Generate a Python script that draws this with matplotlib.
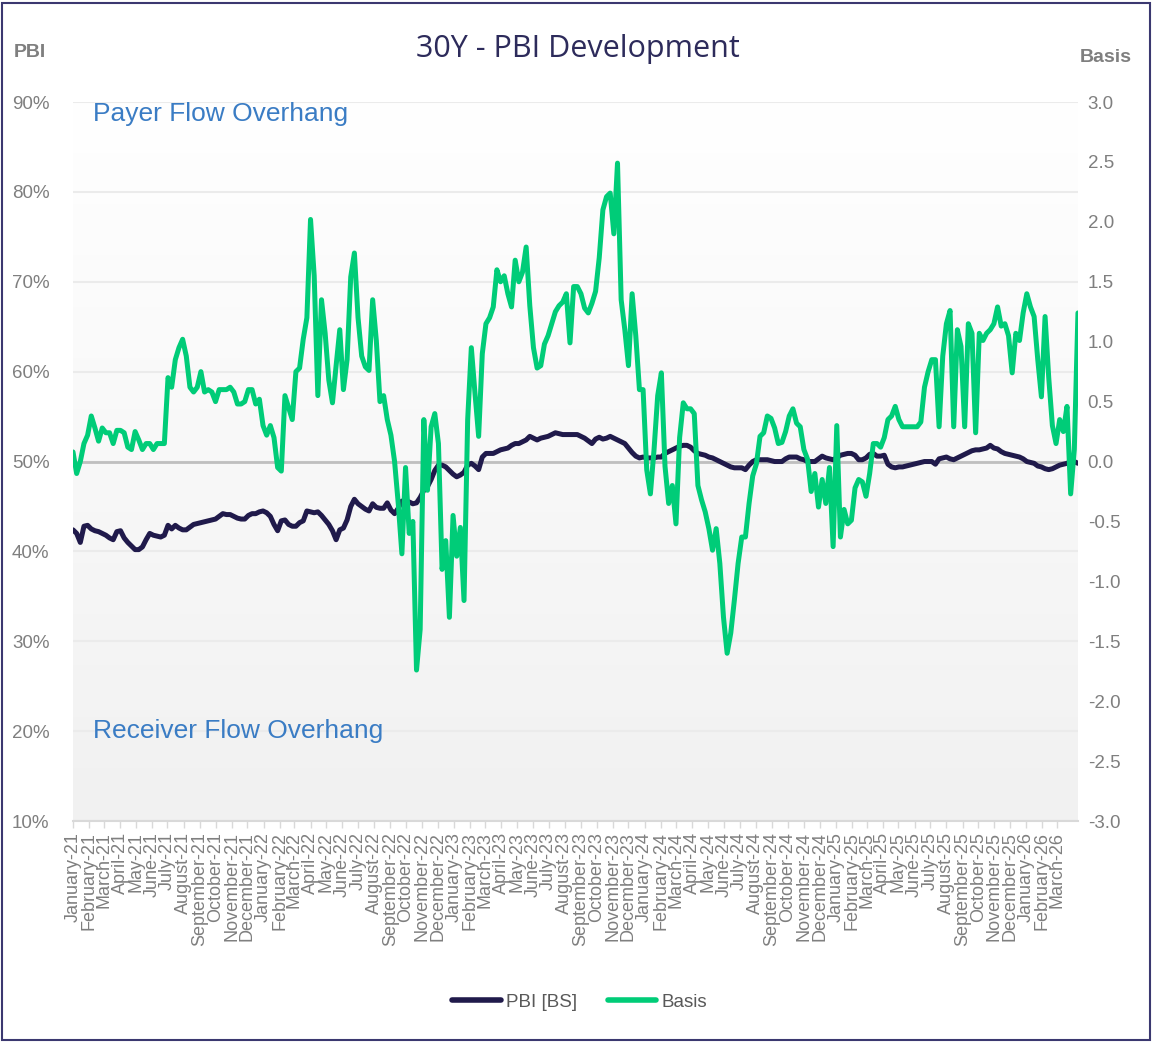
import numpy as np
import pandas as pd
import matplotlib
matplotlib.use('Agg')
import matplotlib.pyplot as plt
from matplotlib.lines import Line2D
from matplotlib.patches import Rectangle

# weekly observations, starting 1 Jan 2021
start_date = '2021-01-01'

pbi = [42.4, 42.0, 41.0, 42.8, 42.9, 42.5, 42.3, 42.2, 42.0, 41.8,
       41.5, 41.3, 42.2, 42.3, 41.5, 41.0, 40.6, 40.2, 40.2, 40.5,
       41.3, 42.0, 41.8, 41.7, 41.6, 41.8, 42.9, 42.5, 42.9, 42.6,
       42.4, 42.4, 42.7, 43.0, 43.1, 43.2, 43.3, 43.4, 43.5, 43.6,
       43.9, 44.2, 44.1, 44.1, 43.9, 43.7, 43.6, 43.6, 44.0, 44.2,
       44.2, 44.4, 44.5, 44.3, 43.9, 43.0, 42.3, 43.4, 43.5, 43.0,
       42.8, 42.8, 43.2, 43.4, 44.5, 44.4, 44.3, 44.4, 44.0, 43.5,
       43.0, 42.3, 41.3, 42.4, 42.6, 43.5, 45.0, 45.8, 45.3, 45.0,
       44.7, 44.5, 45.3, 44.9, 44.8, 44.8, 45.4, 44.6, 44.2, 44.8,
       45.6, 45.6, 45.5, 45.3, 45.4, 46.0, 46.8, 47.2, 48.0, 49.0,
       49.6, 49.6, 49.4, 49.0, 48.6, 48.3, 48.5, 48.8, 49.6, 49.8,
       49.5, 49.1, 50.5, 50.9, 50.9, 50.9, 51.1, 51.3, 51.4, 51.5,
       51.8, 52.0, 52.0, 52.2, 52.4, 52.8, 52.6, 52.4, 52.6, 52.7,
       52.8, 53.0, 53.2, 53.1, 53.0, 53.0, 53.0, 53.0, 53.0, 52.8,
       52.6, 52.3, 52.0, 52.5, 52.7, 52.5, 52.6, 52.8, 52.6, 52.4,
       52.2, 52.0, 51.5, 51.0, 50.6, 50.4, 50.5, 50.4, 50.4, 50.4,
       50.5, 50.5, 50.9, 51.1, 51.3, 51.5, 51.7, 51.8, 51.8, 51.6,
       51.2, 50.9, 50.8, 50.7, 50.5, 50.4, 50.2, 50.0, 49.8, 49.6,
       49.4, 49.3, 49.3, 49.3, 49.1, 49.6, 50.0, 50.2, 50.2, 50.2,
       50.2, 50.1, 50.0, 50.0, 50.0, 50.3, 50.5, 50.5, 50.5, 50.3,
       50.2, 50.0, 50.0, 50.0, 50.3, 50.6, 50.4, 50.3, 50.2, 50.4,
       50.7, 50.8, 50.9, 50.9, 50.7, 50.2, 50.2, 50.4, 50.8, 50.9,
       50.6, 50.6, 50.7, 49.7, 49.4, 49.3, 49.4, 49.4, 49.5, 49.6,
       49.7, 49.8, 49.9, 50.0, 50.0, 50.0, 49.7, 50.3, 50.4, 50.5,
       50.3, 50.2, 50.4, 50.6, 50.8, 51.0, 51.2, 51.3, 51.3, 51.4,
       51.5, 51.8, 51.5, 51.4, 51.1, 50.9, 50.8, 50.7, 50.6, 50.5,
       50.3, 50.0, 49.9, 49.8, 49.5, 49.4, 49.2, 49.1, 49.2, 49.4,
       49.6, 49.7, 49.8, 50.0, 50.0, 49.8]

basis = [0.08, -0.10, 0.00, 0.15, 0.22, 0.38, 0.28, 0.17, 0.28, 0.24,
         0.24, 0.15, 0.26, 0.26, 0.24, 0.12, 0.10, 0.25, 0.18, 0.10,
         0.15, 0.15, 0.10, 0.15, 0.15, 0.15, 0.70, 0.62, 0.85, 0.95,
         1.02, 0.88, 0.62, 0.58, 0.62, 0.75, 0.58, 0.60, 0.58, 0.50,
         0.60, 0.60, 0.60, 0.62, 0.58, 0.48, 0.48, 0.50, 0.60, 0.60,
         0.48, 0.52, 0.30, 0.22, 0.30, 0.20, -0.05, -0.08, 0.55, 0.45,
         0.35, 0.75, 0.78, 1.02, 1.20, 2.02, 1.55, 0.55, 1.35, 1.07,
         0.68, 0.49, 0.80, 1.10, 0.60, 0.85, 1.54, 1.74, 1.20, 0.88,
         0.79, 0.76, 1.35, 1.01, 0.50, 0.55, 0.35, 0.22, 0.00, -0.35,
         -0.77, -0.05, -0.60, -0.50, -1.74, -1.40, 0.35, -0.24, 0.29, 0.40,
         0.15, -0.90, -0.66, -1.30, -0.45, -0.79, -0.55, -1.16, 0.35, 0.95,
         0.57, 0.21, 0.90, 1.15, 1.20, 1.29, 1.60, 1.50, 1.55, 1.40,
         1.29, 1.68, 1.50, 1.58, 1.79, 1.30, 0.95, 0.78, 0.80, 0.98,
         1.05, 1.15, 1.25, 1.30, 1.33, 1.40, 0.99, 1.46, 1.46, 1.40,
         1.28, 1.24, 1.32, 1.42, 1.70, 2.10, 2.21, 2.24, 1.90, 2.49,
         1.35, 1.10, 0.80, 1.40, 1.05, 0.60, 0.60, -0.07, -0.27, 0.10,
         0.55, 0.74, -0.04, -0.35, -0.20, -0.52, 0.20, 0.49, 0.44, 0.44,
         0.40, -0.20, -0.32, -0.42, -0.56, -0.74, -0.56, -0.85, -1.30, -1.60,
         -1.43, -1.15, -0.85, -0.63, -0.63, -0.35, -0.12, -0.02, 0.21, 0.24,
         0.38, 0.36, 0.28, 0.15, 0.16, 0.25, 0.38, 0.44, 0.32, 0.29,
         0.10, 0.02, -0.25, -0.10, -0.38, -0.15, -0.35, -0.05, -0.71, 0.30,
         -0.63, -0.40, -0.52, -0.49, -0.22, -0.15, -0.17, -0.29, -0.10, 0.15,
         0.15, 0.12, 0.20, 0.35, 0.38, 0.46, 0.35, 0.29, 0.29, 0.29,
         0.29, 0.29, 0.33, 0.62, 0.75, 0.85, 0.85, 0.29, 0.88, 1.15,
         1.26, 0.29, 1.10, 0.96, 0.29, 1.15, 1.07, 0.24, 1.07, 1.01,
         1.07, 1.10, 1.15, 1.29, 1.13, 1.15, 1.05, 0.74, 1.07, 1.01,
         1.24, 1.40, 1.29, 1.21, 0.85, 0.54, 1.21, 0.70, 0.30, 0.15,
         0.35, 0.25, 0.46, -0.27, 0.10, 1.24]

pbi_ticks = [10, 20, 30, 40, 50, 60, 70, 80, 90]
basis_ticks = [-3.0, -2.5, -2.0, -1.5, -1.0, -0.5, 0.0, 0.5, 1.0, 1.5, 2.0, 2.5, 3.0]
series_names = ['PBI [BS]', 'Basis']

dates = pd.date_range(start_date, periods=len(pbi), freq='7D')
months = pd.date_range('2021-01-01', '2026-03-01', freq='MS')

navy = '#201a4b'
green = '#00cc78'
grey = '#7f7f7f'

fig = plt.figure(figsize=(11.55, 10.43), dpi=100)
rect = [0.0632, 0.2128, 0.8701, 0.6894]

# gradient background of the plot area
bg = fig.add_axes(rect, zorder=-1)
grad = np.linspace(1.0, 0.945, 512).reshape(-1, 1)
bg.imshow(np.dstack([grad, grad, grad]), aspect='auto', extent=[0, 1, 0, 1],
          interpolation='bilinear')
bg.axis('off')

ax = fig.add_axes(rect)
ax.patch.set_visible(False)
ax2 = ax.twinx()
ax2.patch.set_visible(False)

for t in pbi_ticks:
    ax.axhline(t, color='#ebebeb', lw=1.5, zorder=0)
ax.axhline(50, color='#bfbfbf', lw=2, zorder=1)

ax.plot(dates, pbi, color=navy, lw=3.6, solid_capstyle='round', zorder=3)
ax2.plot(dates, basis, color=green, lw=3.6, solid_capstyle='round', zorder=3)

ax.set_ylim(10, 90)
ax2.set_ylim(-3, 3)
ax.set_xlim(pd.Timestamp('2021-01-01'), dates[-1])

ax.set_yticks(pbi_ticks)
ax.set_yticklabels([f'{t}%' for t in pbi_ticks])
ax2.set_yticks(basis_ticks)
ax2.set_yticklabels([f'{t:.1f}' for t in basis_ticks])

ax.set_xticks(months)
ax.set_xticklabels([m.strftime('%B-%y') for m in months], rotation=90)

for a in (ax, ax2):
    for s in a.spines.values():
        s.set_visible(False)
ax.spines['bottom'].set_visible(True)
ax.spines['bottom'].set_color('#d9d9d9')
ax.spines['bottom'].set_linewidth(1.5)

ax.tick_params(axis='y', length=0, pad=17, labelsize=13.5, labelcolor=grey)
ax2.tick_params(axis='y', length=0, pad=7, labelsize=13.5, labelcolor=grey)
ax.tick_params(axis='x', length=5, width=1, color='#d9d9d9', pad=3,
               labelsize=13, labelcolor=grey)
for lab in ax.get_yticklabels() + ax2.get_yticklabels() + ax.get_xticklabels():
    lab.set_family('Liberation Sans')

ax.text(0.02, 0.983, 'Payer Flow Overhang', transform=ax.transAxes, ha='left', va='center',
        fontsize=19, color='#3a7cc4', family='Liberation Sans')
ax.text(0.02, 0.125, 'Receiver Flow Overhang', transform=ax.transAxes, ha='left', va='center',
        fontsize=19, color='#3a7cc4', family='Liberation Sans')

fig.text(0.5, 0.953, '30Y - PBI Development', ha='center', va='center',
         fontsize=22, color='#2d2b5b', family='Open Sans')
fig.text(0.026, 0.95, 'PBI', ha='center', va='center', fontsize=14,
         fontweight='bold', color=grey, family='Liberation Sans')
fig.text(0.957, 0.945, 'Basis', ha='center', va='center', fontsize=14,
         fontweight='bold', color=grey, family='Liberation Sans')

handles = [Line2D([], [], color=navy, lw=4, solid_capstyle='round'),
           Line2D([], [], color=green, lw=4, solid_capstyle='round')]
fig.legend(handles, series_names, loc='center', bbox_to_anchor=(0.502, 0.039), ncol=2,
           frameon=False, handlelength=2.6, handletextpad=0.3, columnspacing=1.6,
           prop={'family': 'Liberation Sans', 'size': 13.5}, labelcolor='#595959')

fig.patches.append(Rectangle((0.002, 0.003), 0.994, 0.994, transform=fig.transFigure,
                             fill=False, edgecolor='#3b3870', lw=1.5))

fig.savefig('out.png', dpi=100)
